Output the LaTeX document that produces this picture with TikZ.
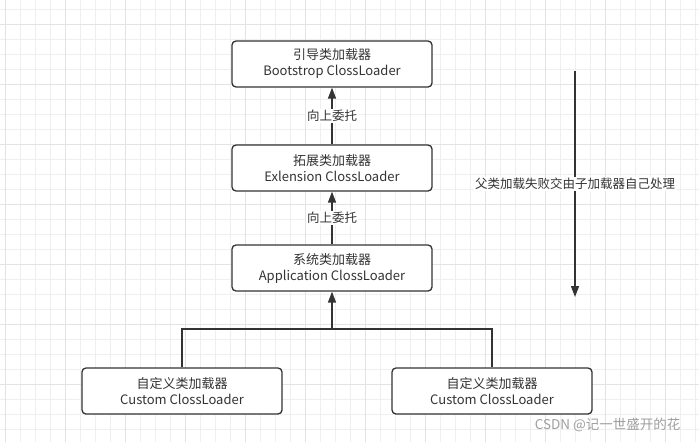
\documentclass[tikz,border=0pt]{standalone}
\usepackage{fontspec}
\setmainfont{Noto Sans CJK SC}
\usetikzlibrary{positioning, arrows.meta}
\definecolor{ink}{HTML}{333333}
\definecolor{gridminor}{HTML}{EFEFEF}
\definecolor{gridmajor}{HTML}{E3E3E3}

\begin{document}
\begin{tikzpicture}[x=1pt,y=-1pt,node distance=100pt,on grid,
  loader/.style={draw=ink, line width=1.3pt, rounded corners=4pt, fill=white,
    minimum width=200pt, minimum height=46pt, align=center, text=ink,
    font=\fontsize{13}{16}\selectfont},
  link/.style={draw=ink, line width=1.5pt, -{Triangle[length=11pt,width=8pt]}},
  wire/.style={draw=ink, line width=1.5pt},
  tag/.style={fill=white, inner sep=1pt, text=ink, font=\fontsize{12.5}{15}\selectfont}]
  \useasboundingbox (0,0) rectangle (699,442);
  % grid
  \foreach \x in {5,20,...,695} \draw[gridminor, line width=0.8pt] (\x,0) -- (\x,442);
  \foreach \y in {9,24,...,440} \draw[gridminor, line width=0.8pt] (0,\y) -- (699,\y);
  \foreach \x in {5,65,...,695} \draw[gridmajor, line width=1pt] (\x,0) -- (\x,442);
  \foreach \y in {24,84,...,440} \draw[gridmajor, line width=1pt] (0,\y) -- (699,\y);

  \node[loader] (boot) at (332,64) {引导类加载器\\Bootstrop ClossLoader};
  \node[loader] (ext) [below=104pt of boot] {拓展类加载器\\Exlension ClossLoader};
  \node[loader] (app) [below=100pt of ext] {系统类加载器\\Application ClossLoader};
  \node[loader] (custL) [below left=123pt and 150pt of app] {自定义类加载器\\Custom ClossLoader};
  \node[loader] (custR) [below right=123pt and 160pt of app] {自定义类加载器\\Custom ClossLoader};
  \coordinate[below=61pt of app] (split);

  \path
    (ext) edge[link] node[tag] {向上委托} (boot)
    (app) edge[link] node[tag] {向上委托} (ext)
    (split) edge[link] (app);
  \draw[wire] (custL.north) |- (split) -| (custR.north);

  % failure goes back down
  \coordinate (top) at (575,71);
  \coordinate (bottom) at (575,297);
  \draw[link] (top) -- node[tag] {父类加载失败交由子加载器自己处理} (bottom);

  \node[anchor=east, text=black!38, font=\fontsize{13.5}{16}\selectfont] (mark) at (684,425) {CSDN @记一世盛开的花};
\end{tikzpicture}
\end{document}
